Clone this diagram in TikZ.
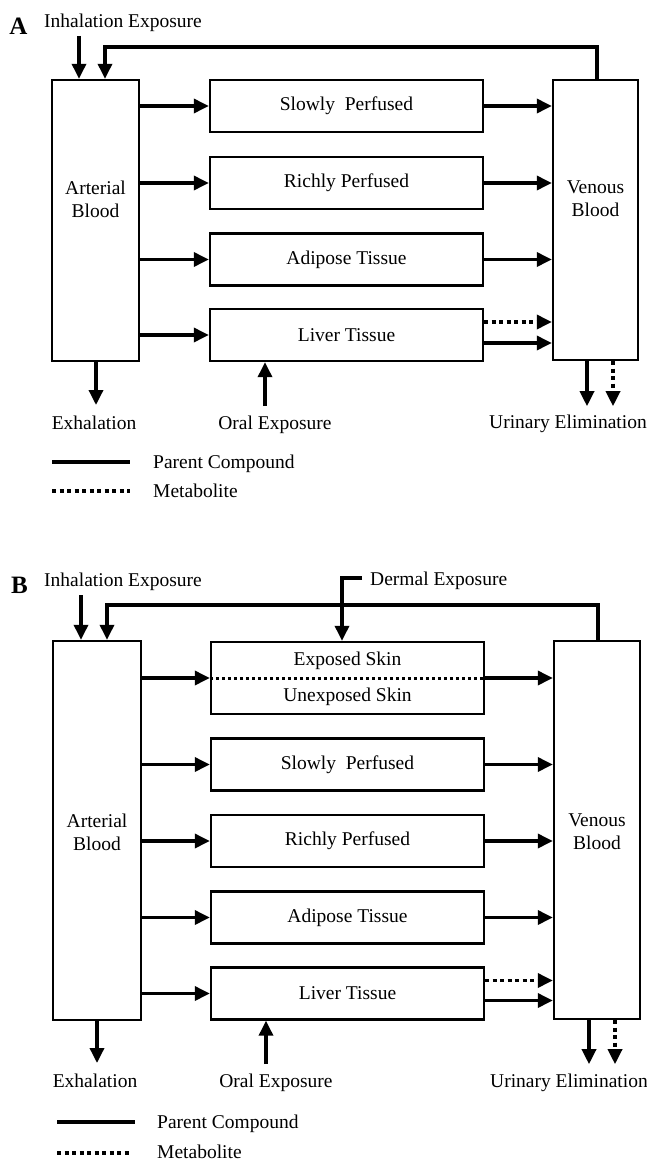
\documentclass[tikz,border=0pt]{standalone}
\usepackage{fontspec}
\setmainfont{Liberation Serif}
\usetikzlibrary{arrows.meta}

\newcommand{\pbkfont}{\fontsize{19.5}{23}\selectfont}
\newcommand{\pbkpanel}{\fontsize{25}{28}\selectfont\bfseries}

\tikzset{
  comp/.style={draw, line width=2.4pt, inner sep=0pt, align=center},
  organ/.style={comp, minimum width=273pt, minimum height=52pt},
  flow/.style={line width=3.4pt, -{Triangle[length=15pt,width=14pt]}},
  metab/.style={flow, dash pattern=on 4pt off 3.5pt},
  txt/.style={inner sep=0pt, anchor=base},
}

\begin{document}
\begin{tikzpicture}[x=1pt,y=-1pt,every node/.style={font=\pbkfont}]
\useasboundingbox (0,0) rectangle (647,1161);

% ---------------- panel A ----------------
\node[txt, font=\pbkpanel] (labA) at (18.5,35) {A};
\node[txt, anchor=base west] (inhA) at (44,28) {Inhalation Exposure};
\node[comp, minimum width=87pt, minimum height=281pt] (artA) at (95.5,220.5) {};
\node[comp, minimum width=85pt, minimum height=280pt] (venA) at (595.5,220) {};
\node[inner sep=0pt, align=center] (artAt) at (95.5,199) {Arterial\\Blood};
\node[inner sep=0pt, align=center] (venAt) at (595.5,199) {Venous\\Blood};
\node[organ] (slowA) at (346.5,106) {Slowly~ Perfused};
\node[organ] (richA) at (346.5,183) {Richly Perfused};
\node[organ] (fatA) at (346.5,259.5) {Adipose Tissue};
\node[organ] (livA) at (346.5,335) {Liver Tissue};
\node[txt] (exA) at (94,429) {Exhalation};
\node[txt] (orA) at (275,429) {Oral Exposure};
\node[txt] (urA) at (568,428) {Urinary Elimination};
\node[txt, anchor=base west] (pcA) at (153,468) {Parent Compound};
\node[txt, anchor=base west] (mbA) at (153,497) {Metabolite};

\coordinate (inA) at (79,36);
\coordinate (fbA) at (105,47);
\coordinate (exAtip) at (96,405);
\coordinate (orAtail) at (265,406);
\coordinate (lmA) at ([yshift=13pt]livA.east);
\coordinate (lpA) at ([yshift=-8pt]livA.east);
\draw[flow] (inA) -- (inA |- artA.north);
\draw[flow] ([xshift=1.5pt]venA.north) |- (fbA) -- (fbA |- artA.north);
\foreach \o in {slowA,richA,fatA,livA}
  \draw[flow] (artA.east |- \o.west) -- (\o.west);
\foreach \o in {slowA,richA,fatA}
  \draw[flow] (\o.east) -- (venA.west |- \o.east);
\draw[metab] (lmA) -- (venA.west |- lmA);
\draw[flow] (lpA) -- (venA.west |- lpA);
\draw[flow] (artA.south -| exAtip) -- (exAtip);
\draw[flow] (orAtail) -- (orAtail |- livA.south);
\draw[flow] ([xshift=-8.5pt]venA.south) -- ++(0,45);
\draw[metab] ([xshift=17.5pt]venA.south) -- ++(0,45);
% legend
\draw[line width=4pt] (52,462) -- (130,462);
\draw[line width=4pt, dash pattern=on 4pt off 3.5pt] (52,491) -- (130,491);

% ---------------- panel B ----------------
\node[txt, font=\pbkpanel] (labB) at (19.5,593) {B};
\node[txt, anchor=base west] (inhB) at (44,586) {Inhalation Exposure};
\node[txt, anchor=base west] (derB) at (370,585) {Dermal Exposure};
\node[comp, minimum width=88pt, minimum height=379pt] (artB) at (97,830.5) {};
\node[comp, minimum width=86pt, minimum height=378pt] (venB) at (597,830) {};
\node[inner sep=0pt, align=center] (artBt) at (97,832) {Arterial\\Blood};
\node[inner sep=0pt, align=center] (venBt) at (597,832) {Venous\\Blood};
\node[comp, minimum width=273pt, minimum height=72pt] (skinB) at (347.5,678) {};
\node[inner sep=0pt] (expB) at (347.5,661) {Exposed Skin};
\node[inner sep=0pt] (unexB) at (347.5,697) {Unexposed Skin};
\node[organ] (slowB) at (347.5,764.5) {Slowly~ Perfused};
\node[organ] (richB) at (347.5,841) {Richly Perfused};
\node[organ] (fatB) at (347.5,917.5) {Adipose Tissue};
\node[organ] (livB) at (347.5,993.5) {Liver Tissue};
\node[txt] (exB) at (95,1087) {Exhalation};
\node[txt] (orB) at (276,1087) {Oral Exposure};
\node[txt] (urB) at (569,1087) {Urinary Elimination};
\node[txt, anchor=base west] (pcB) at (157,1128) {Parent Compound};
\node[txt, anchor=base west] (mbB) at (157,1158) {Metabolite};

\coordinate (inB) at (81,595);
\coordinate (fbB) at (107,605);
\coordinate (derBc) at (342,578);
\coordinate (exBtip) at (97,1063);
\coordinate (orBtail) at (266,1064);
\coordinate (lmB) at ([yshift=13pt]livB.east);
\coordinate (lpB) at ([yshift=-7pt]livB.east);
\draw[flow] (inB) -- (inB |- artB.north);
\draw[flow] ([xshift=1pt]venB.north) |- (fbB) -- (fbB |- artB.north);
\draw[flow] ([xshift=20pt]derBc) -- (derBc) -- (derBc |- skinB.north);
\draw[line width=3pt, dash pattern=on 3pt off 3pt] (skinB.west) -- (skinB.east);
\foreach \o in {skinB,slowB,richB,fatB,livB}
  \draw[flow] (artB.east |- \o.west) -- (\o.west);
\foreach \o in {skinB,slowB,richB,fatB}
  \draw[flow] (\o.east) -- (venB.west |- \o.east);
\draw[metab] (lmB) -- (venB.west |- lmB);
\draw[flow] (lpB) -- (venB.west |- lpB);
\draw[flow] (artB.south -| exBtip) -- (exBtip);
\draw[flow] (orBtail) -- (orBtail |- livB.south);
\draw[flow] ([xshift=-8pt]venB.south) -- ++(0,44);
\draw[metab] ([xshift=18pt]venB.south) -- ++(0,44);
% legend
\draw[line width=4pt] (57,1122) -- (135,1122);
\draw[line width=4pt, dash pattern=on 4pt off 3.5pt] (57,1153) -- (130,1153);
\end{tikzpicture}
\end{document}
